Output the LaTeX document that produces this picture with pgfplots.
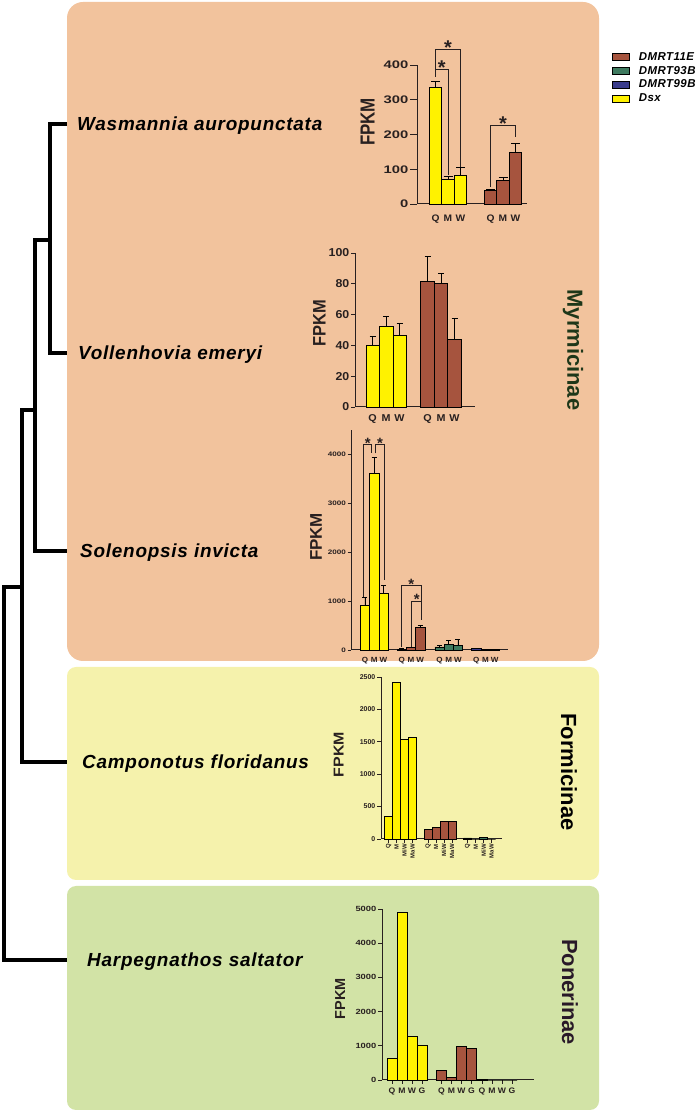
\documentclass[border=0pt]{standalone}
\usepackage{fontspec}
\usepackage{graphicx}
\setmainfont{Liberation Sans}
\newfontfamily\specfont[LetterSpace=4]{Liberation Sans}
\newfontfamily\wideA[FakeStretch=1.35]{Liberation Sans}
\newfontfamily\wideB[FakeStretch=1.25]{Liberation Sans}
\newfontfamily\wideC[FakeStretch=1.08]{Liberation Sans}
\usepackage{pgfplots}
\pgfplotsset{compat=1.18}
\definecolor{bgO}{RGB}{242,195,157}
\definecolor{bgY}{RGB}{245,242,172}
\definecolor{bgG}{RGB}{210,227,166}
\definecolor{cY}{RGB}{255,242,0}
\definecolor{cB}{RGB}{166,84,62}
\definecolor{cG}{RGB}{62,122,95}
\definecolor{cP}{RGB}{58,60,140}
\definecolor{myrm}{RGB}{30,55,25}
\definecolor{pon}{RGB}{40,25,40}
\definecolor{axc}{RGB}{40,32,32}
\newcommand\fs[1]{\fontsize{#1}{#1}\selectfont}
\pgfplotsset{
  chart/.style={
    scale only axis, axis lines=left,
    axis line style={-, draw=axc, line width=1bp},
    ybar, bar shift=0pt, bar width=1, ymin=0, clip=false,
    tick align=outside,
    major tick style={draw=axc, line width=0.9bp},
    /pgf/number format/assume math mode=true,
    /pgf/number format/1000 sep={},
    scaled y ticks=false,
    every axis plot/.append style={draw=black, line width=0.6bp},
    ticklabel style={text=axc},
  },
  eb/.style={error bars/.cd, y dir=plus, y explicit,
    error bar style={line width=0.8bp, black},
    error mark=-,
    error mark options={rotate=90, line width=0.8bp, black, mark size=#1}},
  sw/.style={legend image code/.code={\draw[line width=0.8bp,fill=#1,draw=black] (0bp,-3.5bp) rectangle (17bp,3.5bp); \path (24bp,0bp);}},
}
\begin{document}
\begin{tikzpicture}[x=1bp,y=1bp]
\def\H{1114}
\path[use as bounding box] (0,0) rectangle (700,1114);
% backgrounds
\fill[bgO, rounded corners=16bp] (67,\H-2) rectangle (599,\H-661);
\fill[bgY, rounded corners=9bp] (67,\H-667) rectangle (599,\H-880);
\fill[bgG, rounded corners=9bp] (67,\H-886) rectangle (599,\H-1110);
% tree
\begin{scope}[line width=3.5bp]
\draw (67,\H-124) -| (50,\H-353) -- (67,\H-353);
\draw (50,\H-240) -| (35,\H-551) -- (67,\H-551);
\draw (35,\H-410) -| (22,\H-762) -- (67,\H-762);
\draw (22,\H-587) -| (4,\H-960) -- (67,\H-960);
\end{scope}
% species
\begin{scope}[every node/.style={anchor=base west, inner sep=0pt, font=\specfont\bfseries\itshape\fs{19}}]
\node at (77,\H-131) {Wasmannia auropunctata};
\node at (78,\H-360) {Vollenhovia emeryi};
\node at (80,\H-558) {Solenopsis invicta};
\node at (82,\H-769) {Camponotus floridanus};
\node at (87,\H-967) {Harpegnathos saltator};
\end{scope}
% subfamilies
\node[rotate=-90, font=\bfseries\fs{22}, text=myrm] at (573,\H-350) {Myrmicinae};
\node[rotate=-90, font=\bfseries\fs{22}, text=black] at (569,\H-772) {Formicinae};
\node[rotate=-90, font=\bfseries\fs{22}, text=pon] at (570,\H-992) {Ponerinae};

% ---------- Wasmannia ----------
\begin{axis}[chart, at={(417bp,910bp)}, anchor=south west, width=110bp, height=139bp,
  xmin=-0.48, xmax=8.32, ymax=400, ytick={0,100,200,300,400},
  xtick={1,2,3,5.4,6.4,7.4}, xticklabels={Q,M,W,Q,M,W}, xtick style={draw=none},
  major tick length=7bp,
  yticklabel style={font=\wideA\bfseries\fs{11}, inner sep=1.5bp},
  xticklabel style={font=\wideC\bfseries\fs{9.5}},
  ylabel={\scalebox{1}[1.2]{FPKM}}, ylabel style={at={(axis description cs:-0.45,0.59)}, anchor=center, font=\bfseries\fs{17}, text=axc},
  legend style={at={(axis description cs:1.773,1.108)}, anchor=north west, draw=none, fill=none,
    font=\specfont\bfseries\itshape\fs{11.5}, row sep=0.5bp, inner sep=0pt, cells={anchor=west}},
  ]
\addplot[forget plot, fill=cY, eb=4.5bp] coordinates {(1,336) +- (0,16) (2,72) +- (0,8) (3,82) +- (0,23)};
\addplot[forget plot, fill=cB, eb=4.5bp] coordinates {(5.4,38) +- (0,4) (6.4,69) +- (0,8) (7.4,148) +- (0,27)};
\addlegendimage{sw=cB}\addlegendentry{DMRT11E}
\addlegendimage{sw=cG}\addlegendentry{DMRT93B}
\addlegendimage{sw=cP}\addlegendentry{DMRT99B}
\addlegendimage{sw=cY}\addlegendentry{Dsx}
\draw[line width=0.8bp, draw=axc] (axis cs:1,366) -- (axis cs:1,388) -- (axis cs:2,388) -- (axis cs:2,83);
\draw[line width=0.8bp, draw=axc] (axis cs:1,388) -- (axis cs:1,446) -- (axis cs:3,446) -- (axis cs:3,107);
\draw[line width=0.8bp, draw=axc] (axis cs:5.4,50) -- (axis cs:5.4,227) -- (axis cs:7.4,227) -- (axis cs:7.4,192);
\node[font=\bfseries\fs{20}, anchor=base, text=axc, inner sep=0pt] at (axis cs:1.5,372) {*};
\node[font=\bfseries\fs{20}, anchor=base, text=axc, inner sep=0pt] at (axis cs:2,431) {*};
\node[font=\bfseries\fs{20}, anchor=base, text=axc, inner sep=0pt] at (axis cs:6.4,212) {*};
\end{axis}

% ---------- Vollenhovia ----------
\begin{axis}[chart, at={(355bp,707bp)}, anchor=south west, width=119.5bp, height=154bp,
  xmin=-0.3, xmax=8.55, ymax=100, ytick={0,20,40,60,80,100},
  xtick={1,2,3,5.07,6.07,7.07}, xticklabels={Q,M,W,Q,M,W}, xtick style={draw=none},
  major tick length=4bp,
  yticklabel style={font=\wideC\bfseries\fs{11.5}, inner sep=1.5bp},
  xticklabel style={font=\wideC\bfseries\fs{10}},
  ylabel={\scalebox{1}[1.1]{FPKM}}, ylabel style={at={(axis description cs:-0.297,0.545)}, anchor=center, font=\bfseries\fs{16.5}, text=axc},
  ]
\addplot[fill=cY, eb=3bp] coordinates {(1,40) +- (0,6) (2,52.5) +- (0,6) (3,46.5) +- (0,7.5)};
\addplot[fill=cB, eb=3bp] coordinates {(5.07,81.5) +- (0,16.5) (6.07,80) +- (0,7) (7.07,44) +- (0,13.5)};
\end{axis}

% ---------- Solenopsis ----------
\begin{axis}[chart, at={(351bp,464bp)}, anchor=south west, width=157bp, height=220bp,
  xmin=-0.52, xmax=16.54, ymax=4500, ytick={0,1000,2000,3000,4000},
  xtick={1,2,3,5,6,7,9.1,10.1,11.1,13.1,14.1,15.1}, xticklabels={Q,M,W,Q,M,W,Q,M,W,Q,M,W},
  xtick style={draw=none}, major tick length=3.5bp,
  yticklabel style={font=\wideB\bfseries\fs{6.5}, inner sep=1.5bp},
  xticklabel style={font=\wideC\bfseries\fs{7.5}},
  ylabel={FPKM}, ylabel style={at={(axis description cs:-0.223,0.514)}, anchor=center, font=\bfseries\fs{17}, text=axc},
  ]
\addplot[fill=cY, eb=2.5bp] coordinates {(1,910) +- (0,160) (2,3620) +- (0,320) (3,1160) +- (0,160)};
\addplot[fill=cB, eb=2.5bp] coordinates {(5,15) +- (0,8) (6,45) +- (0,12) (7,465) +- (0,45)};
\addplot[fill=cG, eb=2.5bp] coordinates {(9.1,65) +- (0,25) (10.1,118) +- (0,70) (11.1,100) +- (0,115)};
\addplot[fill=cP, eb=2.5bp] coordinates {(13.1,30) +- (0,6) (14.1,15) +- (0,4) (15.1,8) +- (0,3)};
\draw[line width=0.7bp, draw=axc] (axis cs:0.82,1090) -- (axis cs:0.82,4206) -- (axis cs:1.72,4206) -- (axis cs:1.72,4022);
\draw[line width=0.7bp, draw=axc] (axis cs:2.16,4022) -- (axis cs:2.16,4206) -- (axis cs:3.07,4206) -- (axis cs:3.07,1431);
\draw[line width=0.7bp, draw=axc] (axis cs:4.99,68) -- (axis cs:4.99,1329) -- (axis cs:7.09,1329) -- (axis cs:7.09,613);
\draw[line width=0.7bp, draw=axc] (axis cs:6.07,68) -- (axis cs:6.07,988) -- (axis cs:7.09,988);
\node[font=\bfseries\fs{15}, anchor=base, text=axc, inner sep=0pt] at (axis cs:1.29,4131) {*};
\node[font=\bfseries\fs{15}, anchor=base, text=axc, inner sep=0pt] at (axis cs:2.63,4131) {*};
\node[font=\bfseries\fs{15}, anchor=base, text=axc, inner sep=0pt] at (axis cs:6.03,1240) {*};
\node[font=\bfseries\fs{15}, anchor=base, text=axc, inner sep=0pt] at (axis cs:6.62,926) {*};
\end{axis}

% ---------- Camponotus ----------
\begin{axis}[chart, at={(381bp,275bp)}, anchor=south west, width=121bp, height=162bp,
  xmin=0.06, xmax=15.19, ymax=2500, ytick={0,500,1000,1500,2000,2500},
  xtick={1,2,3,4,5.94,6.94,7.94,8.94,10.9,11.9,12.9,13.9},
  xticklabels={Q,M,MiW,MaW,Q,M,MiW,MaW,Q,M,MiW,MaW},
  major tick length=4bp, xtick style={draw=axc, line width=0.8bp},
  yticklabel style={font=\bfseries\fs{7}, inner sep=1.5bp},
  xticklabel style={font=\bfseries\fs{6}, rotate=90, anchor=east, inner sep=1bp},
  ylabel={\scalebox{1}[0.9]{FPKM}}, ylabel style={at={(axis description cs:-0.35,0.52)}, anchor=center, font=\bfseries\fs{16}, text=axc},
  ]
\addplot[fill=cY] coordinates {(1,354) (2,2418) (3,1540) (4,1571)};
\addplot[fill=cB] coordinates {(5.94,149) (6.94,175) (7.94,272) (8.94,267)};
\addplot[fill=cG] coordinates {(10.9,18) (11.9,0) (12.9,24) (13.9,0)};
\end{axis}

% ---------- Harpegnathos ----------
\begin{axis}[chart, at={(382bp,34bp)}, anchor=south west, width=152bp, height=171bp,
  xmin=0, xmax=15.2, ymax=5000, ytick={0,1000,2000,3000,4000,5000},
  xtick={1,2,3,4,5.95,6.95,7.95,8.95,10,11,12,13},
  xticklabels={Q,M,W,G,Q,M,W,G,Q,M,W,G},
  major tick length=4bp, xtick style={draw=axc, line width=0.8bp},
  yticklabel style={font=\wideB\bfseries\fs{7.5}, inner sep=1.5bp},
  xticklabel style={font=\wideC\bfseries\fs{8}},
  ylabel={FPKM}, ylabel style={at={(axis description cs:-0.276,0.474)}, anchor=center, font=\bfseries\fs{14.5}, text=axc},
  ]
\addplot[fill=cY] coordinates {(1,634) (2,4903) (3,1267) (4,1004)};
\addplot[fill=cB] coordinates {(5.95,292) (6.95,68) (7.95,994) (8.95,926)};
\addplot[fill=cG] coordinates {(10,12) (11,0) (12,0) (13,0)};
\end{axis}
\end{tikzpicture}
\end{document}
